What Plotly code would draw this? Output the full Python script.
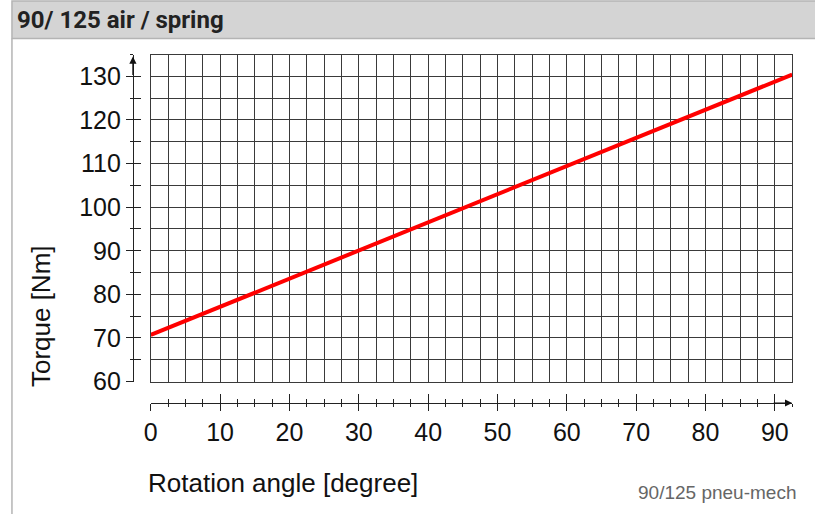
import plotly.graph_objects as go

# rotation angle [degree] vs torque [Nm]
angle = [0, 92.5]
torque = [70.7, 130.4]

x_range = [0, 92.5]
y_range = [60, 135]
x_ticks = [0, 10, 20, 30, 40, 50, 60, 70, 80, 90]
y_ticks = [60, 70, 80, 90, 100, 110, 120, 130]

W, H = 815, 528
FONT = "Liberation Sans, Arial, sans-serif"
GRID = "#3a3a3a"

def px_x(p):
    return p / W

def px_y(p):
    return 1 - p / H

x_dom = [px_x(145), px_x(792)]
y_dom = [px_y(392), px_y(56)]

fig = go.Figure()
fig.add_trace(go.Scatter(x=angle, y=torque, mode="lines",
                         line=dict(color="#ff0000", width=4),
                         showlegend=False, hoverinfo="skip"))

# plot box with the grid
fig.update_layout(
    xaxis=dict(domain=x_dom, range=x_range, dtick=2.5, tick0=0,
               showgrid=True, gridcolor=GRID, gridwidth=1,
               showline=True, linecolor=GRID, mirror=True,
               showticklabels=False, ticks="", zeroline=False, fixedrange=True),
    yaxis=dict(domain=y_dom, range=y_range, dtick=5, tick0=60,
               showgrid=True, gridcolor=GRID, gridwidth=1,
               showline=True, linecolor=GRID, mirror=True,
               showticklabels=False, ticks="", zeroline=False, fixedrange=True),
)

# detached x axis below the box: labels + ticks crossing the line
common_x = dict(domain=x_dom, range=x_range, overlaying="x", anchor="free",
                position=px_y(414), showgrid=False, zeroline=False,
                tickmode="array", tickvals=x_ticks, fixedrange=True)
fig.update_layout(
    xaxis2=dict(**common_x, showline=True, linecolor="#222", linewidth=1,
                ticks="outside", ticklen=7, tickcolor="#222",
                ticktext=[str(v) for v in x_ticks],
                tickfont=dict(family=FONT, size=25, color="#111"),
                minor=dict(dtick=2.5, tick0=0, ticks="outside", ticklen=3,
                           tickcolor="#222")),
    xaxis3=dict(**common_x, showline=False, ticks="inside", ticklen=9,
                tickcolor="#222", showticklabels=False,
                minor=dict(dtick=2.5, tick0=0, ticks="inside", ticklen=4,
                           tickcolor="#222")),
)

# detached y axis left of the box
common_y = dict(domain=y_dom, range=y_range, overlaying="y", anchor="free",
                position=px_x(127), side="left", showgrid=False, zeroline=False,
                tickmode="array", tickvals=y_ticks, fixedrange=True)
fig.update_layout(
    yaxis2=dict(**common_y, showline=True, linecolor="#222", linewidth=1,
                ticks="outside", ticklen=7, tickcolor="#222",
                tickfont=dict(family=FONT, size=25, color="#111"),
                minor=dict(dtick=5, tick0=60, ticks="outside", ticklen=3,
                           tickcolor="#222")),
    yaxis3=dict(**common_y, showline=False, ticks="inside", ticklen=7,
                tickcolor="#222", showticklabels=False,
                minor=dict(dtick=5, tick0=60, ticks="inside", ticklen=7,
                           tickcolor="#222")),
)
# dummy traces so the extra axes render
fig.add_trace(go.Scatter(x=[None], y=[None], xaxis="x2", yaxis="y2", showlegend=False))
fig.add_trace(go.Scatter(x=[None], y=[None], xaxis="x3", yaxis="y3", showlegend=False))

# header bar and panel border
fig.add_shape(type="rect", xref="paper", yref="paper",
              x0=px_x(5), x1=1.01, y0=px_y(39.5), y1=px_y(1),
              fillcolor="#d4d4d4", line=dict(color="#b4b4b4", width=1.5), layer="below")
fig.add_shape(type="line", xref="paper", yref="paper",
              x0=px_x(5), x1=px_x(5), y0=0, y1=px_y(39.5),
              line=dict(color="#b4b4b4", width=1.5))

annotations = [
    dict(text="<b>90/ 125 air / spring</b>", x=px_x(8), y=px_y(21), xanchor="left",
         yanchor="middle", font=dict(family="Roboto, sans-serif", size=24, color="#222")),
    dict(text="Torque [Nm]", x=px_x(35), y=px_y(325), textangle=-90,
         xanchor="center", yanchor="middle", font=dict(family=FONT, size=26, color="#111")),
    dict(text="Rotation angle [degree]", x=px_x(140), y=px_y(496), xanchor="left",
         yanchor="middle", font=dict(family=FONT, size=26, color="#111")),
    dict(text="90/125 pneu-mech", x=px_x(798), y=px_y(506), xanchor="right",
         yanchor="middle", font=dict(family=FONT, size=19, color="#666")),
    # arrow heads on the detached axes
    dict(x=px_x(792), y=px_y(414), ax=-20, ay=0, axref="pixel", ayref="pixel",
         text="", showarrow=True, arrowhead=2, arrowsize=1.2, arrowwidth=1.2,
         arrowcolor="#111"),
    dict(x=px_x(127), y=px_y(58), ax=0, ay=20, text="", showarrow=True,
         arrowhead=2, arrowsize=1.2, arrowwidth=1.2, arrowcolor="#111"),
]
for a in annotations:
    a.setdefault("xref", "paper")
    a.setdefault("yref", "paper")
    a.setdefault("showarrow", False)
fig.update_layout(annotations=annotations)

fig.update_layout(autosize=True, margin=dict(l=0, r=0, t=0, b=0),
                  paper_bgcolor="white", plot_bgcolor="white", showlegend=False)

# let the figure fill the page exactly
fit = ("var s=document.createElement('style');"
       "s.textContent='html,body{margin:0;padding:0;overflow:hidden;height:100%;width:100%;}"
       "body>div{height:100%;width:100%;}';"
       "document.head.appendChild(s);"
       "Plotly.Plots.resize(document.getElementById('{plot_id}'));")
fig.write_html("out.html", config={"displayModeBar": False, "responsive": True},
               default_width="100%", default_height="100%", post_script=fit)
